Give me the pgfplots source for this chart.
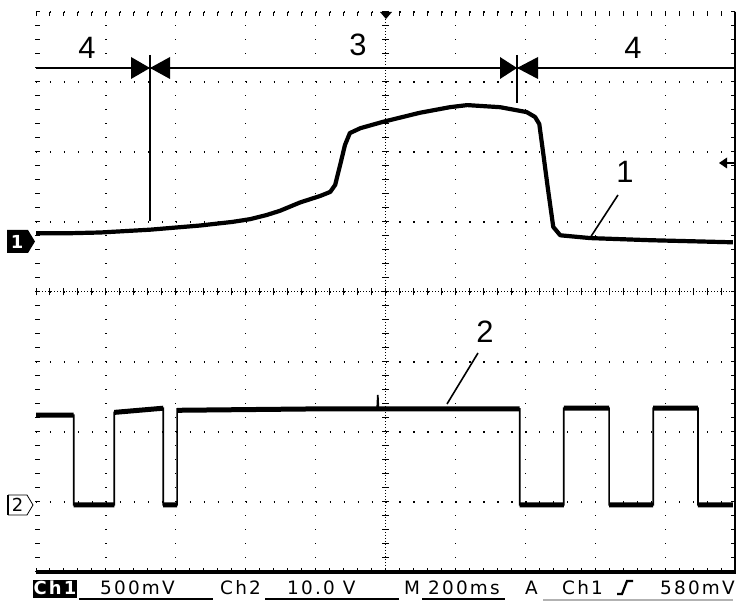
\documentclass[border=0pt]{standalone}
\usepackage{pgfplots}
\pgfplotsset{compat=1.18}
\usepackage{fontspec}
\setmainfont{Liberation Sans}
\newfontfamily\scopefont[LetterSpace=12]{DejaVu Sans}

% trace 1 (Ch1), in screen divisions
\pgfplotstableread{
x     y
0.00  4.84
0.50  4.84
0.92  4.85
1.63  4.89
2.35  4.95
2.80  5.00
3.06  5.04
3.30  5.10
3.49  5.16
3.78  5.28
4.06  5.37
4.21  5.43
4.28  5.53
4.35  5.81
4.42  6.10
4.49  6.27
4.64  6.34
4.96  6.43
5.49  6.56
5.92  6.64
6.17  6.67
6.64  6.64
7.02  6.57
7.14  6.50
7.20  6.40
7.25  6.03
7.32  5.50
7.40  4.93
7.50  4.81
7.93  4.77
8.78  4.74
9.97  4.71
}\chone

\begin{document}
\begin{tikzpicture}
\path[use as bounding box] (0,0) rectangle (750bp,614bp);
\begin{axis}[
    at={(36bp,42bp)}, anchor=south west,
    scale only axis, width=699bp, height=560bp,
    xmin=0, xmax=10, ymin=0, ymax=8,
    xtick={0,...,10}, ytick={0,...,8},
    xticklabels={}, yticklabels={},
    major tick length=0pt,
    axis line style={draw=none},
    grid=major,
    x grid style={black, line width=1.2bp, dash pattern=on 1.2bp off 12.8bp},
    y grid style={black, line width=1.2bp, dash pattern=on 1.2bp off 12.78bp},
    clip=false,
]
\addplot[black, line width=4.2bp, line join=round] table {\chone};

% Ch2, thin full trace
\addplot[black, line width=1.6bp] coordinates {
(0,2.24)(0.54,2.24)(0.54,0.96)(1.12,0.96)(1.12,2.28)(1.82,2.34)(1.82,0.96)
(2.02,0.96)(2.02,2.33)(4.88,2.33)(4.89,2.53)(4.90,2.33)(6.92,2.33)(6.92,0.96)
(7.55,0.96)(7.55,2.34)(8.20,2.34)(8.20,0.96)(8.83,0.96)(8.83,2.34)(9.47,2.34)
(9.47,0.96)(9.97,0.96)
};
% Ch2, noisy flat parts
\addplot[black, line width=5bp, line cap=butt, unbounded coords=jump] coordinates {
(0,2.24)(0.54,2.24)(0.54,nan)
(0.54,0.96)(1.12,0.96)(1.12,nan)
(1.12,2.28)(1.82,2.34)(1.82,nan)
(1.82,0.96)(2.02,0.96)(2.02,nan)
(2.02,2.31)(4.00,2.33)(6.92,2.33)(6.92,nan)
(6.92,0.96)(7.55,0.96)(7.55,nan)
(7.55,2.34)(8.20,2.34)(8.20,nan)
(8.20,0.96)(8.83,0.96)(8.83,nan)
(8.83,2.34)(9.47,2.34)(9.47,nan)
(9.47,0.96)(9.97,0.96)
};
\end{axis}

\begin{scope}[x=1bp, y=1bp]
% centre lines with fine ticks
\draw[line width=1bp, dash pattern=on 1bp off 2bp] (385.5,42)--(385.5,602);
\draw[line width=1bp, dash pattern=on 1bp off 2bp] (36,322)--(735,322);
\foreach \i in {0,...,50} {
  \draw[line width=1bp] ({36+13.98*\i},318.5)--++(0,7);
  \draw[line width=1bp] ({36+13.98*\i},42)--++(0,4);
  \draw[line width=1bp] ({36+13.98*\i},602)--++(0,-4);
}
\foreach \j in {0,...,40} {
  \draw[line width=1bp] (382,{42+14*\j})--++(7,0);
  \draw[line width=1bp] (36,{42+14*\j})--++(4,0);
  \draw[line width=1bp] (735,{42+14*\j})--++(-4,0);
}
\draw[line width=1.2bp] (735,42)--(735,602);
\draw[line width=4bp] (36,42)--(736,42);

% cursor line and markers
\draw[line width=2bp] (36,546)--(735,546);
\draw[line width=2bp] (150,559)--(150,393);
\fill (131,557)--(131,535)--(150,546)--cycle;
\fill (170,557)--(170,535)--(150,546)--cycle;
\draw[line width=2bp] (517,559)--(517,511);
\fill (500,557)--(500,535)--(517,546)--cycle;
\fill (538,557)--(538,535)--(517,546)--cycle;

\begin{scope}[every node/.style={font=\fontsize{31}{31}\selectfont, inner sep=0pt}]
\node at (87,566) {4};
\node at (358,569) {3};
\node at (633,566) {4};
\node at (625,442) {1};
\node at (485,282) {2};
\end{scope}
\draw[line width=1.6bp] (618,419)--(590,376);
\draw[line width=1.6bp] (478,261)--(447,210);

% trigger position and level
\fill (380,602)--(392,602)--(386,595)--cycle;
\fill (719,451)--(727,456.5)--(727,445.5)--cycle;
\draw[line width=1.2bp] (726,451)--(734,451);

% channel markers
\fill (7,384)--(28,384)--(35,372.5)--(28,361)--(7,361)--cycle;
\node[text=white, font=\scopefont\bfseries\fontsize{18}{18}\selectfont, inner sep=0pt] at (17,372.5) {1};
\draw[line width=1.6bp] (8,119)--(8,99);
\draw[line width=0.8bp] (8,119)--(27,119)--(33,109)--(27,99)--(8,99);
\node[font=\scopefont\fontsize{18}{18}\selectfont, inner sep=0pt] at (17.5,109) {2};

% status line
\fill (33,16)--(77,16)--(77,34)--(33,34)--cycle;
\begin{scope}[every node/.style={font=\scopefont\fontsize{18.5}{18.5}\selectfont, inner sep=0pt, anchor=base west}]
\node at (100,20) {500mV};
\node at (220,20) {Ch2};
\node at (287,20) {10.0 V};
\node at (404,20) {M};
\node at (428,20) {200ms};
\node at (525,20) {A};
\node at (562,20) {Ch1};
\node at (660,20) {580mV};
\end{scope}
\node[text=white, font=\scopefont\bfseries\fontsize{18}{18}\selectfont, inner sep=0pt, anchor=base] at (55,20) {Ch1};
\draw[line width=1.4bp] (79,15)--(213,15);
\draw[line width=1.4bp] (265,15)--(399,15);
\draw[line width=1.4bp] (422,15)--(505,15);
\draw[line width=1.4bp, gray!60] (543,14)--(733,14);
\draw[line width=2.2bp] (617,20)--(622,20)--(627,33)--(633,33);
\end{scope}
\end{tikzpicture}
\end{document}
